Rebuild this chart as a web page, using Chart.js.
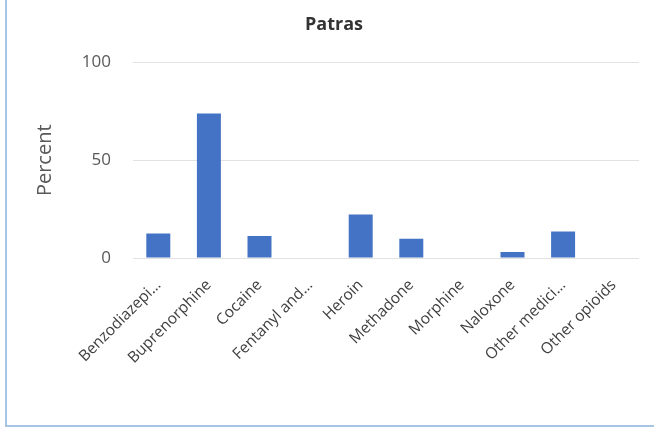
<!DOCTYPE html>
<html>
<head>
<meta charset="utf-8">
<script src="https://cdn.jsdelivr.net/npm/chart.js@4.4.1/dist/chart.umd.min.js"></script>
<style>
  body { margin: 0; background: #fff; }
  #frame {
    position: absolute; left: 5px; top: 0;
    width: 649px; height: 425px;
    border-left: 2px solid #a9c5e6;
    border-bottom: 2px solid #a9c5e6;
  }
  canvas { display: block; }
</style>
</head>
<body>
<div id="frame"><canvas id="chart" width="647" height="425"></canvas></div>
<script>
// data
const categories = ['Benzodiazepi…', 'Buprenorphine', 'Cocaine', 'Fentanyl and…', 'Heroin',
  'Methadone', 'Morphine', 'Naloxone', 'Other medici…', 'Other opioids'];
const percents = [12.6, 74.0, 11.2, 0, 22.2, 9.8, 0, 3.1, 13.5, 0];
const yTicks = [0, 50, 100];

const font = "'Open Sans', 'Liberation Sans', sans-serif";

new Chart(document.getElementById('chart'), {
  type: 'bar',
  data: {
    labels: categories,
    datasets: [{
      label: 'Percent',
      data: percents,
      backgroundColor: '#4472c4',
      categoryPercentage: 1,
      barPercentage: 0.474
    }]
  },
  options: {
    responsive: false,
    devicePixelRatio: 1,
    animation: false,
    layout: { padding: { left: 22, right: 15, top: 0, bottom: 0 } },
    plugins: {
      legend: { display: false },
      tooltip: { enabled: false },
      title: {
        display: true,
        text: 'Patras',
        color: '#333333',
        font: { family: font, size: 18, weight: 'bold' },
        padding: { top: 14, bottom: 27 }
      }
    },
    scales: {
      x: {
        grid: { display: false, drawTicks: false },
        border: { display: false },
        ticks: {
          color: '#404040',
          font: { family: font, size: 15.5 },
          minRotation: 45,
          maxRotation: 45,
          autoSkip: false,
          padding: 18
        },
        afterFit: (s) => { s.height = 167; }
      },
      y: {
        min: 0,
        max: 100,
        afterBuildTicks: (s) => { s.ticks = yTicks.map(v => ({ value: v })); },
        grid: { color: '#e2e2e2', drawTicks: false },
        border: { display: false },
        ticks: {
          color: '#595959',
          font: { family: font, size: 17 },
          padding: 22
        },
        title: {
          display: true,
          text: 'Percent',
          color: '#595959',
          font: { family: font, size: 20 }
        },
        afterFit: (s) => { s.width = 104; }
      }
    }
  }
});
</script>
</body>
</html>
